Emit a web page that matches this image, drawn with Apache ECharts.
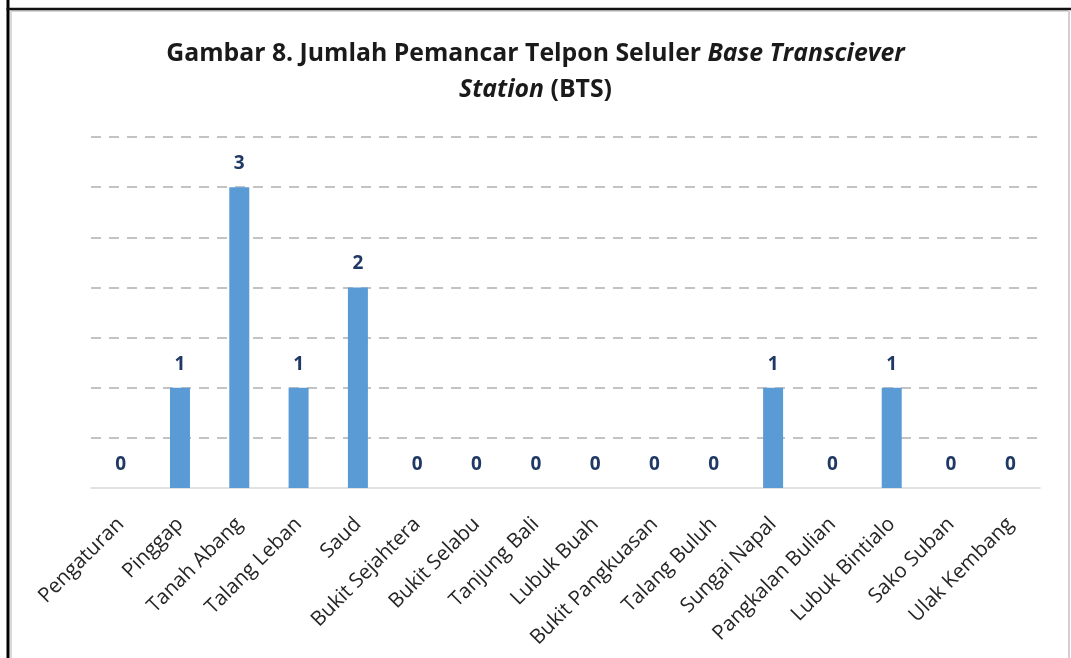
<!DOCTYPE html>
<html>
<head>
<meta charset="utf-8">
<script src="https://cdn.jsdelivr.net/npm/echarts@6/dist/echarts.min.js"></script>
<style>
html,body{margin:0;padding:0;background:#fff;}
#c{width:1071px;height:658px;}
</style>
</head>
<body>
<div id="c"></div>
<script>
const categories = ["Pengaturan","Pinggap","Tanah Abang","Talang Leban","Saud","Bukit Sejahtera","Bukit Selabu","Tanjung Bali","Lubuk Buah","Bukit Pangkuasan","Talang Buluh","Sungai Napal","Pangkalan Bulian","Lubuk Bintialo","Sako Suban","Ulak Kembang"];
const values = [0,1,3,1,2,0,0,0,0,0,0,1,0,1,0,0];
const yMin = 0, yMax = 3.5, yStep = 0.5;

const chart = echarts.init(document.getElementById('c'), null, {renderer:'canvas'});
const font = '"Open Sans", "Noto Sans", sans-serif';
chart.setOption({
  backgroundColor:'#fff',
  animation:false,
  title:{
    left:'center', top:31,
    text:'{b|Gambar 8. Jumlah Pemancar Telpon Seluler }{i|Base Transciever}\n{i|Station}{b| (BTS)}',
    textStyle:{
      lineHeight:36,
      rich:{
        b:{fontFamily:font,fontWeight:'bold',fontSize:24.8,color:'#1a1a1a',lineHeight:36},
        i:{fontFamily:font,fontWeight:'bold',fontStyle:'italic',fontSize:24.8,color:'#1a1a1a',lineHeight:36}
      }
    }
  },
  grid:{left:91,right:31,top:137,bottom:170,containLabel:false},
  xAxis:{
    type:'category', data:categories,
    axisLine:{show:true,lineStyle:{color:'#D9D9D9',width:1.5}},
    axisTick:{show:false},
    axisLabel:{rotate:45,interval:0,margin:33,fontFamily:font,fontSize:20.5,color:'#262626'}
  },
  yAxis:{
    type:'value', min:yMin, max:yMax, interval:yStep,
    axisLine:{show:false}, axisTick:{show:false}, axisLabel:{show:false},
    splitLine:{show:true,showMinLine:false,lineStyle:{color:'#C3C3C3',width:2,type:[10,8]}}
  },
  series:[{
    type:'bar', data:values, barWidth:20,
    itemStyle:{color:'#5B9BD5'},
    label:{show:true,position:'top',distance:14,fontFamily:font,fontWeight:'bold',fontSize:19,color:'#1F3864'}
  }],
  graphic:[
    {type:'line',shape:{x1:11,y1:11,x2:11,y2:658},style:{stroke:'#D9D9D9',lineWidth:2},z:10},
    {type:'line',shape:{x1:11,y1:11,x2:1068,y2:11},style:{stroke:'#D9D9D9',lineWidth:2},z:10},
    {type:'line',shape:{x1:8,y1:0,x2:8,y2:658},style:{stroke:'#000',lineWidth:3},z:11},
    {type:'line',shape:{x1:6.5,y1:9,x2:1071,y2:9},style:{stroke:'#111',lineWidth:2.5},z:11},
    {type:'line',shape:{x1:1069,y1:10,x2:1069,y2:658},style:{stroke:'#D0D0D0',lineWidth:2},z:11}
  ]
});
</script>
</body>
</html>
